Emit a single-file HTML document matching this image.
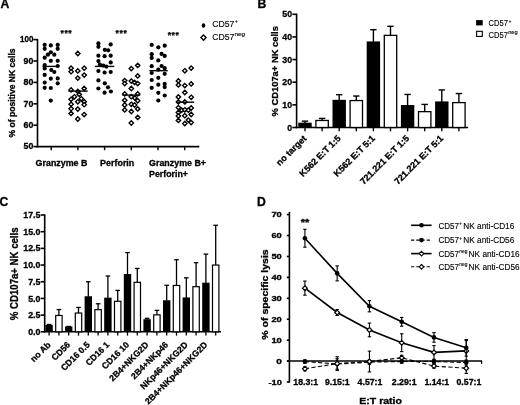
<!DOCTYPE html>
<html><head><meta charset="utf-8"><title>Figure</title>
<style>
html,body{margin:0;padding:0;background:#fff;width:520px;height:405px;overflow:hidden;}
svg{display:block;will-change:transform;}
text{font-family:"Liberation Sans", sans-serif;fill:#000;}
</style></head>
<body>
<svg width="520" height="405" viewBox="0 0 520 405">
<rect width="520" height="405" fill="#fff"/>
<text x="0.60" y="8.40" font-size="12.2" font-weight="bold" text-anchor="start" stroke="#000" stroke-width="0.3" >A</text>
<text x="257.60" y="8.40" font-size="12.2" font-weight="bold" text-anchor="start" stroke="#000" stroke-width="0.3" >B</text>
<text x="-0.60" y="205.60" font-size="12.2" font-weight="bold" text-anchor="start" stroke="#000" stroke-width="0.3" >C</text>
<text x="257.00" y="206.20" font-size="12.2" font-weight="bold" text-anchor="start" stroke="#000" stroke-width="0.3" >D</text>
<line x1="37.50" y1="38.90" x2="37.50" y2="147.30" stroke="#000" stroke-width="1.6" />
<line x1="36.70" y1="146.60" x2="199.30" y2="146.60" stroke="#000" stroke-width="1.6" />
<line x1="33.40" y1="39.60" x2="37.50" y2="39.60" stroke="#000" stroke-width="1.6" />
<text x="33.40" y="42.30" font-size="8.8" font-weight="bold" text-anchor="end" stroke="#000" stroke-width="0.3" textLength="13.40" lengthAdjust="spacingAndGlyphs" >100</text>
<line x1="33.40" y1="61.00" x2="37.50" y2="61.00" stroke="#000" stroke-width="1.6" />
<text x="33.40" y="63.70" font-size="8.8" font-weight="bold" text-anchor="end" stroke="#000" stroke-width="0.3" >90</text>
<line x1="33.40" y1="82.40" x2="37.50" y2="82.40" stroke="#000" stroke-width="1.6" />
<text x="33.40" y="85.10" font-size="8.8" font-weight="bold" text-anchor="end" stroke="#000" stroke-width="0.3" >80</text>
<line x1="33.40" y1="103.80" x2="37.50" y2="103.80" stroke="#000" stroke-width="1.6" />
<text x="33.40" y="106.50" font-size="8.8" font-weight="bold" text-anchor="end" stroke="#000" stroke-width="0.3" >70</text>
<line x1="33.40" y1="125.20" x2="37.50" y2="125.20" stroke="#000" stroke-width="1.6" />
<text x="33.40" y="127.90" font-size="8.8" font-weight="bold" text-anchor="end" stroke="#000" stroke-width="0.3" >60</text>
<line x1="33.40" y1="146.60" x2="37.50" y2="146.60" stroke="#000" stroke-width="1.6" />
<text x="33.40" y="149.30" font-size="8.8" font-weight="bold" text-anchor="end" stroke="#000" stroke-width="0.3" >50</text>
<line x1="51.20" y1="146.60" x2="51.20" y2="150.20" stroke="#000" stroke-width="1.4" />
<line x1="77.90" y1="146.60" x2="77.90" y2="150.20" stroke="#000" stroke-width="1.4" />
<line x1="104.60" y1="146.60" x2="104.60" y2="150.20" stroke="#000" stroke-width="1.4" />
<line x1="131.30" y1="146.60" x2="131.30" y2="150.20" stroke="#000" stroke-width="1.4" />
<line x1="158.00" y1="146.60" x2="158.00" y2="150.20" stroke="#000" stroke-width="1.4" />
<line x1="184.70" y1="146.60" x2="184.70" y2="150.20" stroke="#000" stroke-width="1.4" />
<text x="14.60" y="92.90" font-size="8.8" font-weight="bold" text-anchor="middle" stroke="#000" stroke-width="0.3" textLength="89.00" lengthAdjust="spacingAndGlyphs" transform="rotate(-90 14.60 92.90)" >% of positive NK cells</text>
<text x="35.60" y="166.30" font-size="8.8" font-weight="bold" text-anchor="start" stroke="#000" stroke-width="0.3" textLength="51.80" lengthAdjust="spacingAndGlyphs" >Granzyme B</text>
<text x="100.10" y="166.30" font-size="8.8" font-weight="bold" text-anchor="start" stroke="#000" stroke-width="0.3" textLength="34.20" lengthAdjust="spacingAndGlyphs" >Perforin</text>
<text x="149.10" y="166.30" font-size="8.8" font-weight="bold" text-anchor="start" stroke="#000" stroke-width="0.3" textLength="56.90" lengthAdjust="spacingAndGlyphs" >Granzyme B+</text>
<text x="149.10" y="176.80" font-size="8.8" font-weight="bold" text-anchor="start" stroke="#000" stroke-width="0.3" textLength="38.80" lengthAdjust="spacingAndGlyphs" >Perforin+</text>
<text x="62.15" y="36.30" font-size="8.6" font-weight="bold" text-anchor="middle" stroke="#000" stroke-width="0.25">*</text>
<text x="66.10" y="36.30" font-size="8.6" font-weight="bold" text-anchor="middle" stroke="#000" stroke-width="0.25">*</text>
<text x="70.05" y="36.30" font-size="8.6" font-weight="bold" text-anchor="middle" stroke="#000" stroke-width="0.25">*</text>
<text x="117.25" y="36.00" font-size="8.6" font-weight="bold" text-anchor="middle" stroke="#000" stroke-width="0.25">*</text>
<text x="121.20" y="36.00" font-size="8.6" font-weight="bold" text-anchor="middle" stroke="#000" stroke-width="0.25">*</text>
<text x="125.15" y="36.00" font-size="8.6" font-weight="bold" text-anchor="middle" stroke="#000" stroke-width="0.25">*</text>
<text x="169.35" y="37.90" font-size="8.6" font-weight="bold" text-anchor="middle" stroke="#000" stroke-width="0.25">*</text>
<text x="173.30" y="37.90" font-size="8.6" font-weight="bold" text-anchor="middle" stroke="#000" stroke-width="0.25">*</text>
<text x="177.25" y="37.90" font-size="8.6" font-weight="bold" text-anchor="middle" stroke="#000" stroke-width="0.25">*</text>
<ellipse cx="203.5" cy="25.5" rx="1.8" ry="2.3" fill="#000"/>
<path d="M203.50 35.00L206.10 37.60L203.50 40.20L200.90 37.60Z" fill="#fff" stroke="#000" stroke-width="1.35"/>
<text x="212.20" y="26.90" font-size="8.8" font-weight="normal" text-anchor="start" stroke="#000" stroke-width="0.12" textLength="22.20" lengthAdjust="spacingAndGlyphs" >CD57</text>
<text x="234.80" y="23.20" font-size="5.5" font-weight="normal" text-anchor="start" stroke="#000" stroke-width="0.12" >+</text>
<text x="212.20" y="39.90" font-size="8.8" font-weight="normal" text-anchor="start" stroke="#000" stroke-width="0.12" textLength="22.20" lengthAdjust="spacingAndGlyphs" >CD57</text>
<text x="234.40" y="36.40" font-size="5.8" font-weight="normal" text-anchor="start" stroke="#000" stroke-width="0.12" textLength="10.80" lengthAdjust="spacingAndGlyphs" >neg</text>
<circle cx="44.70" cy="44.90" r="2.1" fill="#000"/>
<circle cx="44.70" cy="48.80" r="2.1" fill="#000"/>
<circle cx="50.80" cy="45.40" r="2.1" fill="#000"/>
<circle cx="57.70" cy="44.90" r="2.1" fill="#000"/>
<circle cx="57.70" cy="48.80" r="2.1" fill="#000"/>
<circle cx="47.90" cy="54.70" r="2.1" fill="#000"/>
<circle cx="50.80" cy="52.30" r="2.1" fill="#000"/>
<circle cx="54.30" cy="54.70" r="2.1" fill="#000"/>
<circle cx="44.70" cy="57.70" r="2.1" fill="#000"/>
<circle cx="50.80" cy="60.80" r="2.1" fill="#000"/>
<circle cx="57.70" cy="60.80" r="2.1" fill="#000"/>
<circle cx="44.70" cy="65.10" r="2.1" fill="#000"/>
<circle cx="44.70" cy="68.50" r="2.1" fill="#000"/>
<circle cx="57.70" cy="66.00" r="2.1" fill="#000"/>
<circle cx="51.30" cy="70.00" r="2.1" fill="#000"/>
<circle cx="54.30" cy="72.00" r="2.1" fill="#000"/>
<circle cx="44.70" cy="74.90" r="2.1" fill="#000"/>
<circle cx="50.80" cy="78.70" r="2.1" fill="#000"/>
<circle cx="57.70" cy="78.40" r="2.1" fill="#000"/>
<circle cx="44.70" cy="82.60" r="2.1" fill="#000"/>
<circle cx="57.70" cy="83.30" r="2.1" fill="#000"/>
<circle cx="44.70" cy="87.80" r="2.1" fill="#000"/>
<circle cx="50.80" cy="88.00" r="2.1" fill="#000"/>
<circle cx="50.80" cy="100.60" r="2.1" fill="#000"/>
<circle cx="98.40" cy="43.40" r="2.1" fill="#000"/>
<circle cx="98.40" cy="46.80" r="2.1" fill="#000"/>
<circle cx="110.70" cy="44.40" r="2.1" fill="#000"/>
<circle cx="104.80" cy="49.80" r="2.1" fill="#000"/>
<circle cx="108.20" cy="50.30" r="2.1" fill="#000"/>
<circle cx="98.40" cy="55.70" r="2.1" fill="#000"/>
<circle cx="104.60" cy="56.20" r="2.1" fill="#000"/>
<circle cx="110.70" cy="55.70" r="2.1" fill="#000"/>
<circle cx="98.40" cy="61.10" r="2.1" fill="#000"/>
<circle cx="110.70" cy="62.40" r="2.1" fill="#000"/>
<circle cx="99.90" cy="64.60" r="2.1" fill="#000"/>
<circle cx="103.30" cy="65.60" r="2.1" fill="#000"/>
<circle cx="106.30" cy="66.60" r="2.1" fill="#000"/>
<circle cx="98.40" cy="71.00" r="2.1" fill="#000"/>
<circle cx="104.60" cy="72.50" r="2.1" fill="#000"/>
<circle cx="110.70" cy="72.00" r="2.1" fill="#000"/>
<circle cx="98.40" cy="80.40" r="2.1" fill="#000"/>
<circle cx="104.80" cy="83.30" r="2.1" fill="#000"/>
<circle cx="98.40" cy="88.50" r="2.1" fill="#000"/>
<circle cx="108.00" cy="87.30" r="2.1" fill="#000"/>
<circle cx="104.60" cy="92.70" r="2.1" fill="#000"/>
<circle cx="110.90" cy="91.50" r="2.1" fill="#000"/>
<circle cx="151.70" cy="44.90" r="2.1" fill="#000"/>
<circle cx="158.30" cy="47.30" r="2.1" fill="#000"/>
<circle cx="164.70" cy="45.70" r="2.1" fill="#000"/>
<circle cx="151.70" cy="54.20" r="2.1" fill="#000"/>
<circle cx="151.70" cy="57.90" r="2.1" fill="#000"/>
<circle cx="161.60" cy="53.90" r="2.1" fill="#000"/>
<circle cx="164.70" cy="55.90" r="2.1" fill="#000"/>
<circle cx="158.30" cy="60.40" r="2.1" fill="#000"/>
<circle cx="151.70" cy="66.20" r="2.1" fill="#000"/>
<circle cx="161.60" cy="66.00" r="2.1" fill="#000"/>
<circle cx="164.70" cy="68.20" r="2.1" fill="#000"/>
<circle cx="158.30" cy="69.70" r="2.1" fill="#000"/>
<circle cx="151.70" cy="73.00" r="2.1" fill="#000"/>
<circle cx="164.70" cy="73.80" r="2.1" fill="#000"/>
<circle cx="151.70" cy="80.00" r="2.1" fill="#000"/>
<circle cx="158.30" cy="77.80" r="2.1" fill="#000"/>
<circle cx="158.30" cy="84.70" r="2.1" fill="#000"/>
<circle cx="164.70" cy="83.90" r="2.1" fill="#000"/>
<circle cx="164.70" cy="87.10" r="2.1" fill="#000"/>
<circle cx="151.70" cy="87.80" r="2.1" fill="#000"/>
<circle cx="158.30" cy="92.80" r="2.1" fill="#000"/>
<circle cx="164.70" cy="95.50" r="2.1" fill="#000"/>
<circle cx="158.30" cy="100.50" r="2.1" fill="#000"/>
<path d="M77.80 51.30L80.00 53.50L77.80 55.70L75.60 53.50Z" fill="#fff" stroke="#000" stroke-width="1.35"/>
<path d="M71.10 66.00L73.30 68.20L71.10 70.40L68.90 68.20Z" fill="#fff" stroke="#000" stroke-width="1.35"/>
<path d="M71.10 69.50L73.30 71.70L71.10 73.90L68.90 71.70Z" fill="#fff" stroke="#000" stroke-width="1.35"/>
<path d="M77.80 68.70L80.00 70.90L77.80 73.10L75.60 70.90Z" fill="#fff" stroke="#000" stroke-width="1.35"/>
<path d="M84.20 66.00L86.40 68.20L84.20 70.40L82.00 68.20Z" fill="#fff" stroke="#000" stroke-width="1.35"/>
<path d="M84.20 72.90L86.40 75.10L84.20 77.30L82.00 75.10Z" fill="#fff" stroke="#000" stroke-width="1.35"/>
<path d="M77.80 75.90L80.00 78.10L77.80 80.30L75.60 78.10Z" fill="#fff" stroke="#000" stroke-width="1.35"/>
<path d="M71.10 87.70L73.30 89.90L71.10 92.10L68.90 89.90Z" fill="#fff" stroke="#000" stroke-width="1.35"/>
<path d="M84.20 86.20L86.40 88.40L84.20 90.60L82.00 88.40Z" fill="#fff" stroke="#000" stroke-width="1.35"/>
<path d="M77.80 89.20L80.00 91.40L77.80 93.60L75.60 91.40Z" fill="#fff" stroke="#000" stroke-width="1.35"/>
<path d="M79.30 92.20L81.50 94.40L79.30 96.60L77.10 94.40Z" fill="#fff" stroke="#000" stroke-width="1.35"/>
<path d="M74.40 94.60L76.60 96.80L74.40 99.00L72.20 96.80Z" fill="#fff" stroke="#000" stroke-width="1.35"/>
<path d="M71.10 97.10L73.30 99.30L71.10 101.50L68.90 99.30Z" fill="#fff" stroke="#000" stroke-width="1.35"/>
<path d="M77.80 99.60L80.00 101.80L77.80 104.00L75.60 101.80Z" fill="#fff" stroke="#000" stroke-width="1.35"/>
<path d="M81.30 96.60L83.50 98.80L81.30 101.00L79.10 98.80Z" fill="#fff" stroke="#000" stroke-width="1.35"/>
<path d="M84.20 99.60L86.40 101.80L84.20 104.00L82.00 101.80Z" fill="#fff" stroke="#000" stroke-width="1.35"/>
<path d="M84.20 102.50L86.40 104.70L84.20 106.90L82.00 104.70Z" fill="#fff" stroke="#000" stroke-width="1.35"/>
<path d="M71.10 102.00L73.30 104.20L71.10 106.40L68.90 104.20Z" fill="#fff" stroke="#000" stroke-width="1.35"/>
<path d="M71.10 106.50L73.30 108.70L71.10 110.90L68.90 108.70Z" fill="#fff" stroke="#000" stroke-width="1.35"/>
<path d="M77.80 106.90L80.00 109.10L77.80 111.30L75.60 109.10Z" fill="#fff" stroke="#000" stroke-width="1.35"/>
<path d="M71.10 111.20L73.30 113.40L71.10 115.60L68.90 113.40Z" fill="#fff" stroke="#000" stroke-width="1.35"/>
<path d="M84.20 112.40L86.40 114.60L84.20 116.80L82.00 114.60Z" fill="#fff" stroke="#000" stroke-width="1.35"/>
<path d="M77.80 116.80L80.00 119.00L77.80 121.20L75.60 119.00Z" fill="#fff" stroke="#000" stroke-width="1.35"/>
<path d="M137.70 63.20L139.90 65.40L137.70 67.60L135.50 65.40Z" fill="#fff" stroke="#000" stroke-width="1.35"/>
<path d="M131.30 66.40L133.50 68.60L131.30 70.80L129.10 68.60Z" fill="#fff" stroke="#000" stroke-width="1.35"/>
<path d="M137.70 73.70L139.90 75.90L137.70 78.10L135.50 75.90Z" fill="#fff" stroke="#000" stroke-width="1.35"/>
<path d="M124.70 78.40L126.90 80.60L124.70 82.80L122.50 80.60Z" fill="#fff" stroke="#000" stroke-width="1.35"/>
<path d="M124.70 81.40L126.90 83.60L124.70 85.80L122.50 83.60Z" fill="#fff" stroke="#000" stroke-width="1.35"/>
<path d="M131.30 78.90L133.50 81.10L131.30 83.30L129.10 81.10Z" fill="#fff" stroke="#000" stroke-width="1.35"/>
<path d="M134.60 80.20L136.80 82.40L134.60 84.60L132.40 82.40Z" fill="#fff" stroke="#000" stroke-width="1.35"/>
<path d="M137.70 81.40L139.90 83.60L137.70 85.80L135.50 83.60Z" fill="#fff" stroke="#000" stroke-width="1.35"/>
<path d="M131.30 86.30L133.50 88.50L131.30 90.70L129.10 88.50Z" fill="#fff" stroke="#000" stroke-width="1.35"/>
<path d="M124.70 91.70L126.90 93.90L124.70 96.10L122.50 93.90Z" fill="#fff" stroke="#000" stroke-width="1.35"/>
<path d="M137.70 91.70L139.90 93.90L137.70 96.10L135.50 93.90Z" fill="#fff" stroke="#000" stroke-width="1.35"/>
<path d="M131.30 94.50L133.50 96.70L131.30 98.90L129.10 96.70Z" fill="#fff" stroke="#000" stroke-width="1.35"/>
<path d="M134.80 95.70L137.00 97.90L134.80 100.10L132.60 97.90Z" fill="#fff" stroke="#000" stroke-width="1.35"/>
<path d="M124.70 98.10L126.90 100.30L124.70 102.50L122.50 100.30Z" fill="#fff" stroke="#000" stroke-width="1.35"/>
<path d="M137.70 98.60L139.90 100.80L137.70 103.00L135.50 100.80Z" fill="#fff" stroke="#000" stroke-width="1.35"/>
<path d="M131.30 102.10L133.50 104.30L131.30 106.50L129.10 104.30Z" fill="#fff" stroke="#000" stroke-width="1.35"/>
<path d="M134.60 102.80L136.80 105.00L134.60 107.20L132.40 105.00Z" fill="#fff" stroke="#000" stroke-width="1.35"/>
<path d="M124.70 102.80L126.90 105.00L124.70 107.20L122.50 105.00Z" fill="#fff" stroke="#000" stroke-width="1.35"/>
<path d="M124.70 107.70L126.90 109.90L124.70 112.10L122.50 109.90Z" fill="#fff" stroke="#000" stroke-width="1.35"/>
<path d="M131.30 109.30L133.50 111.50L131.30 113.70L129.10 111.50Z" fill="#fff" stroke="#000" stroke-width="1.35"/>
<path d="M137.70 106.70L139.90 108.90L137.70 111.10L135.50 108.90Z" fill="#fff" stroke="#000" stroke-width="1.35"/>
<path d="M137.70 115.20L139.90 117.40L137.70 119.60L135.50 117.40Z" fill="#fff" stroke="#000" stroke-width="1.35"/>
<path d="M131.30 120.80L133.50 123.00L131.30 125.20L129.10 123.00Z" fill="#fff" stroke="#000" stroke-width="1.35"/>
<path d="M191.20 65.90L193.40 68.10L191.20 70.30L189.00 68.10Z" fill="#fff" stroke="#000" stroke-width="1.35"/>
<path d="M184.80 68.60L187.00 70.80L184.80 73.00L182.60 70.80Z" fill="#fff" stroke="#000" stroke-width="1.35"/>
<path d="M178.40 78.70L180.60 80.90L178.40 83.10L176.20 80.90Z" fill="#fff" stroke="#000" stroke-width="1.35"/>
<path d="M178.40 82.70L180.60 84.90L178.40 87.10L176.20 84.90Z" fill="#fff" stroke="#000" stroke-width="1.35"/>
<path d="M184.80 83.40L187.00 85.60L184.80 87.80L182.60 85.60Z" fill="#fff" stroke="#000" stroke-width="1.35"/>
<path d="M191.20 81.70L193.40 83.90L191.20 86.10L189.00 83.90Z" fill="#fff" stroke="#000" stroke-width="1.35"/>
<path d="M184.80 90.30L187.00 92.50L184.80 94.70L182.60 92.50Z" fill="#fff" stroke="#000" stroke-width="1.35"/>
<path d="M178.40 94.70L180.60 96.90L178.40 99.10L176.20 96.90Z" fill="#fff" stroke="#000" stroke-width="1.35"/>
<path d="M191.20 95.10L193.40 97.30L191.20 99.50L189.00 97.30Z" fill="#fff" stroke="#000" stroke-width="1.35"/>
<path d="M178.40 99.70L180.60 101.90L178.40 104.10L176.20 101.90Z" fill="#fff" stroke="#000" stroke-width="1.35"/>
<path d="M184.80 99.70L187.00 101.90L184.80 104.10L182.60 101.90Z" fill="#fff" stroke="#000" stroke-width="1.35"/>
<path d="M178.40 105.40L180.60 107.60L178.40 109.80L176.20 107.60Z" fill="#fff" stroke="#000" stroke-width="1.35"/>
<path d="M191.20 105.80L193.40 108.00L191.20 110.20L189.00 108.00Z" fill="#fff" stroke="#000" stroke-width="1.35"/>
<path d="M181.70 108.00L183.90 110.20L181.70 112.40L179.50 110.20Z" fill="#fff" stroke="#000" stroke-width="1.35"/>
<path d="M184.80 107.60L187.00 109.80L184.80 112.00L182.60 109.80Z" fill="#fff" stroke="#000" stroke-width="1.35"/>
<path d="M188.30 108.00L190.50 110.20L188.30 112.40L186.10 110.20Z" fill="#fff" stroke="#000" stroke-width="1.35"/>
<path d="M178.40 110.30L180.60 112.50L178.40 114.70L176.20 112.50Z" fill="#fff" stroke="#000" stroke-width="1.35"/>
<path d="M191.20 112.30L193.40 114.50L191.20 116.70L189.00 114.50Z" fill="#fff" stroke="#000" stroke-width="1.35"/>
<path d="M184.80 113.50L187.00 115.70L184.80 117.90L182.60 115.70Z" fill="#fff" stroke="#000" stroke-width="1.35"/>
<path d="M178.40 113.70L180.60 115.90L178.40 118.10L176.20 115.90Z" fill="#fff" stroke="#000" stroke-width="1.35"/>
<path d="M188.30 117.90L190.50 120.10L188.30 122.30L186.10 120.10Z" fill="#fff" stroke="#000" stroke-width="1.35"/>
<path d="M178.40 118.20L180.60 120.40L178.40 122.60L176.20 120.40Z" fill="#fff" stroke="#000" stroke-width="1.35"/>
<path d="M184.80 121.40L187.00 123.60L184.80 125.80L182.60 123.60Z" fill="#fff" stroke="#000" stroke-width="1.35"/>
<path d="M191.20 120.40L193.40 122.60L191.20 124.80L189.00 122.60Z" fill="#fff" stroke="#000" stroke-width="1.35"/>
<line x1="42.40" y1="66.40" x2="59.20" y2="66.40" stroke="#000" stroke-width="1.4" />
<line x1="68.40" y1="91.10" x2="87.70" y2="91.10" stroke="#000" stroke-width="1.4" />
<line x1="94.90" y1="66.40" x2="114.20" y2="66.40" stroke="#000" stroke-width="1.4" />
<line x1="122.40" y1="95.10" x2="140.20" y2="95.10" stroke="#000" stroke-width="1.4" />
<line x1="149.40" y1="70.70" x2="167.70" y2="70.70" stroke="#000" stroke-width="1.4" />
<line x1="176.40" y1="102.20" x2="194.20" y2="102.20" stroke="#000" stroke-width="1.4" />
<line x1="296.60" y1="13.60" x2="296.60" y2="128.20" stroke="#000" stroke-width="1.6" />
<line x1="295.80" y1="127.50" x2="468.10" y2="127.50" stroke="#000" stroke-width="1.6" />
<line x1="292.40" y1="127.50" x2="296.60" y2="127.50" stroke="#000" stroke-width="1.6" />
<text x="292.10" y="130.60" font-size="8.8" font-weight="bold" text-anchor="end" stroke="#000" stroke-width="0.3" >0</text>
<line x1="292.40" y1="104.86" x2="296.60" y2="104.86" stroke="#000" stroke-width="1.6" />
<text x="292.10" y="107.96" font-size="8.8" font-weight="bold" text-anchor="end" stroke="#000" stroke-width="0.3" >10</text>
<line x1="292.40" y1="82.22" x2="296.60" y2="82.22" stroke="#000" stroke-width="1.6" />
<text x="292.10" y="85.32" font-size="8.8" font-weight="bold" text-anchor="end" stroke="#000" stroke-width="0.3" >20</text>
<line x1="292.40" y1="59.58" x2="296.60" y2="59.58" stroke="#000" stroke-width="1.6" />
<text x="292.10" y="62.68" font-size="8.8" font-weight="bold" text-anchor="end" stroke="#000" stroke-width="0.3" >30</text>
<line x1="292.40" y1="36.94" x2="296.60" y2="36.94" stroke="#000" stroke-width="1.6" />
<text x="292.10" y="40.04" font-size="8.8" font-weight="bold" text-anchor="end" stroke="#000" stroke-width="0.3" >40</text>
<line x1="292.40" y1="14.30" x2="296.60" y2="14.30" stroke="#000" stroke-width="1.6" />
<text x="292.10" y="17.40" font-size="8.8" font-weight="bold" text-anchor="end" stroke="#000" stroke-width="0.3" >50</text>
<text x="277.80" y="71.30" font-size="9.8" font-weight="bold" text-anchor="middle" stroke="#000" stroke-width="0.3" textLength="90.40" lengthAdjust="spacingAndGlyphs" transform="rotate(-90 277.80 71.30)" >% CD107a+ NK cells</text>
<line x1="305.00" y1="121.16" x2="305.00" y2="123.20" stroke="#000" stroke-width="1.4" />
<line x1="301.80" y1="121.16" x2="308.20" y2="121.16" stroke="#000" stroke-width="1.4" />
<rect x="298.30" y="122.70" width="13.40" height="4.80" fill="#000"/>
<line x1="305.00" y1="127.50" x2="305.00" y2="131.30" stroke="#000" stroke-width="1.4" />
<line x1="322.10" y1="118.44" x2="322.10" y2="120.48" stroke="#000" stroke-width="1.4" />
<line x1="318.90" y1="118.44" x2="325.30" y2="118.44" stroke="#000" stroke-width="1.4" />
<rect x="315.90" y="120.48" width="12.40" height="7.02" fill="#fff" stroke="#000" stroke-width="1.3"/>
<line x1="322.10" y1="127.50" x2="322.10" y2="131.30" stroke="#000" stroke-width="1.4" />
<line x1="339.20" y1="94.67" x2="339.20" y2="100.33" stroke="#000" stroke-width="1.4" />
<line x1="336.00" y1="94.67" x2="342.40" y2="94.67" stroke="#000" stroke-width="1.4" />
<rect x="332.50" y="99.83" width="13.40" height="27.67" fill="#000"/>
<line x1="339.20" y1="127.50" x2="339.20" y2="131.30" stroke="#000" stroke-width="1.4" />
<line x1="356.30" y1="96.03" x2="356.30" y2="100.56" stroke="#000" stroke-width="1.4" />
<line x1="353.10" y1="96.03" x2="359.50" y2="96.03" stroke="#000" stroke-width="1.4" />
<rect x="350.10" y="100.56" width="12.40" height="26.94" fill="#fff" stroke="#000" stroke-width="1.3"/>
<line x1="356.30" y1="127.50" x2="356.30" y2="131.30" stroke="#000" stroke-width="1.4" />
<line x1="373.40" y1="29.70" x2="373.40" y2="41.92" stroke="#000" stroke-width="1.4" />
<line x1="370.20" y1="29.70" x2="376.60" y2="29.70" stroke="#000" stroke-width="1.4" />
<rect x="366.70" y="41.42" width="13.40" height="86.08" fill="#000"/>
<line x1="373.40" y1="127.50" x2="373.40" y2="131.30" stroke="#000" stroke-width="1.4" />
<line x1="390.50" y1="26.30" x2="390.50" y2="35.36" stroke="#000" stroke-width="1.4" />
<line x1="387.30" y1="26.30" x2="393.70" y2="26.30" stroke="#000" stroke-width="1.4" />
<rect x="384.30" y="35.36" width="12.40" height="92.14" fill="#fff" stroke="#000" stroke-width="1.3"/>
<line x1="390.50" y1="127.50" x2="390.50" y2="131.30" stroke="#000" stroke-width="1.4" />
<line x1="407.60" y1="94.45" x2="407.60" y2="105.54" stroke="#000" stroke-width="1.4" />
<line x1="404.40" y1="94.45" x2="410.80" y2="94.45" stroke="#000" stroke-width="1.4" />
<rect x="400.90" y="105.04" width="13.40" height="22.46" fill="#000"/>
<line x1="407.60" y1="127.50" x2="407.60" y2="131.30" stroke="#000" stroke-width="1.4" />
<line x1="424.70" y1="104.41" x2="424.70" y2="111.65" stroke="#000" stroke-width="1.4" />
<line x1="421.50" y1="104.41" x2="427.90" y2="104.41" stroke="#000" stroke-width="1.4" />
<rect x="418.50" y="111.65" width="12.40" height="15.85" fill="#fff" stroke="#000" stroke-width="1.3"/>
<line x1="424.70" y1="127.50" x2="424.70" y2="131.30" stroke="#000" stroke-width="1.4" />
<line x1="441.80" y1="89.92" x2="441.80" y2="101.92" stroke="#000" stroke-width="1.4" />
<line x1="438.60" y1="89.92" x2="445.00" y2="89.92" stroke="#000" stroke-width="1.4" />
<rect x="435.10" y="101.42" width="13.40" height="26.08" fill="#000"/>
<line x1="441.80" y1="127.50" x2="441.80" y2="131.30" stroke="#000" stroke-width="1.4" />
<line x1="458.90" y1="93.54" x2="458.90" y2="102.60" stroke="#000" stroke-width="1.4" />
<line x1="455.70" y1="93.54" x2="462.10" y2="93.54" stroke="#000" stroke-width="1.4" />
<rect x="452.70" y="102.60" width="12.40" height="24.90" fill="#fff" stroke="#000" stroke-width="1.3"/>
<line x1="458.90" y1="127.50" x2="458.90" y2="131.30" stroke="#000" stroke-width="1.4" />
<text x="307.10" y="139.00" font-size="9" font-weight="bold" text-anchor="end" stroke="#000" stroke-width="0.3" transform="rotate(-45 307.10 139.00)" >no target</text>
<text x="341.30" y="139.00" font-size="9" font-weight="bold" text-anchor="end" stroke="#000" stroke-width="0.3" transform="rotate(-45 341.30 139.00)" >K562 E:T 1:5</text>
<text x="375.50" y="139.00" font-size="9" font-weight="bold" text-anchor="end" stroke="#000" stroke-width="0.3" transform="rotate(-45 375.50 139.00)" >K562 E:T 5:1</text>
<text x="409.70" y="139.00" font-size="9" font-weight="bold" text-anchor="end" stroke="#000" stroke-width="0.3" transform="rotate(-45 409.70 139.00)" >721.221 E:T 1:5</text>
<text x="443.90" y="139.00" font-size="9" font-weight="bold" text-anchor="end" stroke="#000" stroke-width="0.3" transform="rotate(-45 443.90 139.00)" >721.221 E:T 5:1</text>
<rect x="476.1" y="20.1" width="6.6" height="5.3" fill="#000"/>
<rect x="476.6" y="31.3" width="5.7" height="5.1" fill="#fff" stroke="#000" stroke-width="1.1"/>
<text x="488.60" y="26.00" font-size="8.2" font-weight="normal" text-anchor="start" stroke="#000" stroke-width="0.12" textLength="19.30" lengthAdjust="spacingAndGlyphs" >CD57</text>
<text x="508.40" y="23.00" font-size="5" font-weight="normal" text-anchor="start" stroke="#000" stroke-width="0.12" >+</text>
<text x="488.60" y="37.60" font-size="8.2" font-weight="normal" text-anchor="start" stroke="#000" stroke-width="0.12" textLength="19.30" lengthAdjust="spacingAndGlyphs" >CD57</text>
<text x="508.20" y="34.20" font-size="5" font-weight="normal" text-anchor="start" stroke="#000" stroke-width="0.12" textLength="9.50" lengthAdjust="spacingAndGlyphs" >neg</text>
<line x1="44.70" y1="214.30" x2="44.70" y2="332.50" stroke="#000" stroke-width="1.6" />
<line x1="43.90" y1="331.80" x2="221.00" y2="331.80" stroke="#000" stroke-width="1.6" />
<line x1="40.60" y1="331.80" x2="44.70" y2="331.80" stroke="#000" stroke-width="1.6" />
<text x="40.40" y="334.90" font-size="8.8" font-weight="bold" text-anchor="end" stroke="#000" stroke-width="0.3" >0.0</text>
<line x1="40.60" y1="315.11" x2="44.70" y2="315.11" stroke="#000" stroke-width="1.6" />
<text x="40.40" y="318.21" font-size="8.8" font-weight="bold" text-anchor="end" stroke="#000" stroke-width="0.3" >2.5</text>
<line x1="40.60" y1="298.43" x2="44.70" y2="298.43" stroke="#000" stroke-width="1.6" />
<text x="40.40" y="301.53" font-size="8.8" font-weight="bold" text-anchor="end" stroke="#000" stroke-width="0.3" >5.0</text>
<line x1="40.60" y1="281.74" x2="44.70" y2="281.74" stroke="#000" stroke-width="1.6" />
<text x="40.40" y="284.84" font-size="8.8" font-weight="bold" text-anchor="end" stroke="#000" stroke-width="0.3" >7.5</text>
<line x1="40.60" y1="265.06" x2="44.70" y2="265.06" stroke="#000" stroke-width="1.6" />
<text x="40.40" y="268.16" font-size="8.8" font-weight="bold" text-anchor="end" stroke="#000" stroke-width="0.3" >10.0</text>
<line x1="40.60" y1="248.37" x2="44.70" y2="248.37" stroke="#000" stroke-width="1.6" />
<text x="40.40" y="251.47" font-size="8.8" font-weight="bold" text-anchor="end" stroke="#000" stroke-width="0.3" >12.5</text>
<line x1="40.60" y1="231.69" x2="44.70" y2="231.69" stroke="#000" stroke-width="1.6" />
<text x="40.40" y="234.79" font-size="8.8" font-weight="bold" text-anchor="end" stroke="#000" stroke-width="0.3" >15.0</text>
<line x1="40.60" y1="215.00" x2="44.70" y2="215.00" stroke="#000" stroke-width="1.6" />
<text x="40.40" y="218.10" font-size="8.8" font-weight="bold" text-anchor="end" stroke="#000" stroke-width="0.3" >17.5</text>
<text x="18.30" y="273.80" font-size="10" font-weight="bold" text-anchor="middle" stroke="#000" stroke-width="0.3" textLength="92.70" lengthAdjust="spacingAndGlyphs" transform="rotate(-90 18.30 273.80)" >% CD107a+ NK cells</text>
<line x1="49.10" y1="324.46" x2="49.10" y2="325.39" stroke="#000" stroke-width="1.3" />
<line x1="46.80" y1="324.46" x2="51.40" y2="324.46" stroke="#000" stroke-width="1.3" />
<rect x="45.40" y="324.89" width="7.40" height="6.91" fill="#000"/>
<line x1="49.10" y1="331.80" x2="49.10" y2="335.60" stroke="#000" stroke-width="1.3" />
<line x1="58.90" y1="309.57" x2="58.90" y2="315.45" stroke="#000" stroke-width="1.3" />
<line x1="56.60" y1="309.57" x2="61.20" y2="309.57" stroke="#000" stroke-width="1.3" />
<rect x="55.70" y="315.45" width="6.40" height="16.35" fill="#fff" stroke="#000" stroke-width="1.2"/>
<line x1="58.90" y1="331.80" x2="58.90" y2="335.60" stroke="#000" stroke-width="1.3" />
<line x1="68.70" y1="326.46" x2="68.70" y2="326.99" stroke="#000" stroke-width="1.3" />
<line x1="66.40" y1="326.46" x2="71.00" y2="326.46" stroke="#000" stroke-width="1.3" />
<rect x="65.00" y="326.49" width="7.40" height="5.31" fill="#000"/>
<line x1="68.70" y1="331.80" x2="68.70" y2="335.60" stroke="#000" stroke-width="1.3" />
<line x1="78.50" y1="307.44" x2="78.50" y2="313.05" stroke="#000" stroke-width="1.3" />
<line x1="76.20" y1="307.44" x2="80.80" y2="307.44" stroke="#000" stroke-width="1.3" />
<rect x="75.30" y="313.05" width="6.40" height="18.75" fill="#fff" stroke="#000" stroke-width="1.2"/>
<line x1="78.50" y1="331.80" x2="78.50" y2="335.60" stroke="#000" stroke-width="1.3" />
<line x1="88.30" y1="281.74" x2="88.30" y2="296.76" stroke="#000" stroke-width="1.3" />
<line x1="86.00" y1="281.74" x2="90.60" y2="281.74" stroke="#000" stroke-width="1.3" />
<rect x="84.60" y="296.26" width="7.40" height="35.54" fill="#000"/>
<line x1="88.30" y1="331.80" x2="88.30" y2="335.60" stroke="#000" stroke-width="1.3" />
<line x1="98.10" y1="303.77" x2="98.10" y2="309.64" stroke="#000" stroke-width="1.3" />
<line x1="95.80" y1="303.77" x2="100.40" y2="303.77" stroke="#000" stroke-width="1.3" />
<rect x="94.90" y="309.64" width="6.40" height="22.16" fill="#fff" stroke="#000" stroke-width="1.2"/>
<line x1="98.10" y1="331.80" x2="98.10" y2="335.60" stroke="#000" stroke-width="1.3" />
<line x1="107.90" y1="276.00" x2="107.90" y2="298.16" stroke="#000" stroke-width="1.3" />
<line x1="105.60" y1="276.00" x2="110.20" y2="276.00" stroke="#000" stroke-width="1.3" />
<rect x="104.20" y="297.66" width="7.40" height="34.14" fill="#000"/>
<line x1="107.90" y1="331.80" x2="107.90" y2="335.60" stroke="#000" stroke-width="1.3" />
<line x1="117.70" y1="290.42" x2="117.70" y2="301.30" stroke="#000" stroke-width="1.3" />
<line x1="115.40" y1="290.42" x2="120.00" y2="290.42" stroke="#000" stroke-width="1.3" />
<rect x="114.50" y="301.30" width="6.40" height="30.50" fill="#fff" stroke="#000" stroke-width="1.2"/>
<line x1="117.70" y1="331.80" x2="117.70" y2="335.60" stroke="#000" stroke-width="1.3" />
<line x1="127.50" y1="252.58" x2="127.50" y2="274.53" stroke="#000" stroke-width="1.3" />
<line x1="125.20" y1="252.58" x2="129.80" y2="252.58" stroke="#000" stroke-width="1.3" />
<rect x="123.80" y="274.03" width="7.40" height="57.77" fill="#000"/>
<line x1="127.50" y1="331.80" x2="127.50" y2="335.60" stroke="#000" stroke-width="1.3" />
<line x1="137.30" y1="268.46" x2="137.30" y2="282.34" stroke="#000" stroke-width="1.3" />
<line x1="135.00" y1="268.46" x2="139.60" y2="268.46" stroke="#000" stroke-width="1.3" />
<rect x="134.10" y="282.34" width="6.40" height="49.46" fill="#fff" stroke="#000" stroke-width="1.2"/>
<line x1="137.30" y1="331.80" x2="137.30" y2="335.60" stroke="#000" stroke-width="1.3" />
<line x1="147.10" y1="318.32" x2="147.10" y2="319.72" stroke="#000" stroke-width="1.3" />
<line x1="144.80" y1="318.32" x2="149.40" y2="318.32" stroke="#000" stroke-width="1.3" />
<rect x="143.40" y="319.22" width="7.40" height="12.58" fill="#000"/>
<line x1="147.10" y1="331.80" x2="147.10" y2="335.60" stroke="#000" stroke-width="1.3" />
<line x1="156.90" y1="310.38" x2="156.90" y2="314.85" stroke="#000" stroke-width="1.3" />
<line x1="154.60" y1="310.38" x2="159.20" y2="310.38" stroke="#000" stroke-width="1.3" />
<rect x="153.70" y="314.85" width="6.40" height="16.95" fill="#fff" stroke="#000" stroke-width="1.2"/>
<line x1="156.90" y1="331.80" x2="156.90" y2="335.60" stroke="#000" stroke-width="1.3" />
<line x1="166.70" y1="285.28" x2="166.70" y2="300.76" stroke="#000" stroke-width="1.3" />
<line x1="164.40" y1="285.28" x2="169.00" y2="285.28" stroke="#000" stroke-width="1.3" />
<rect x="163.00" y="300.26" width="7.40" height="31.54" fill="#000"/>
<line x1="166.70" y1="331.80" x2="166.70" y2="335.60" stroke="#000" stroke-width="1.3" />
<line x1="176.50" y1="259.72" x2="176.50" y2="285.48" stroke="#000" stroke-width="1.3" />
<line x1="174.20" y1="259.72" x2="178.80" y2="259.72" stroke="#000" stroke-width="1.3" />
<rect x="173.30" y="285.48" width="6.40" height="46.32" fill="#fff" stroke="#000" stroke-width="1.2"/>
<line x1="176.50" y1="331.80" x2="176.50" y2="335.60" stroke="#000" stroke-width="1.3" />
<line x1="186.30" y1="277.81" x2="186.30" y2="297.96" stroke="#000" stroke-width="1.3" />
<line x1="184.00" y1="277.81" x2="188.60" y2="277.81" stroke="#000" stroke-width="1.3" />
<rect x="182.60" y="297.46" width="7.40" height="34.34" fill="#000"/>
<line x1="186.30" y1="331.80" x2="186.30" y2="335.60" stroke="#000" stroke-width="1.3" />
<line x1="196.10" y1="262.65" x2="196.10" y2="286.68" stroke="#000" stroke-width="1.3" />
<line x1="193.80" y1="262.65" x2="198.40" y2="262.65" stroke="#000" stroke-width="1.3" />
<rect x="192.90" y="286.68" width="6.40" height="45.12" fill="#fff" stroke="#000" stroke-width="1.2"/>
<line x1="196.10" y1="331.80" x2="196.10" y2="335.60" stroke="#000" stroke-width="1.3" />
<line x1="205.90" y1="254.11" x2="205.90" y2="283.21" stroke="#000" stroke-width="1.3" />
<line x1="203.60" y1="254.11" x2="208.20" y2="254.11" stroke="#000" stroke-width="1.3" />
<rect x="202.20" y="282.71" width="7.40" height="49.09" fill="#000"/>
<line x1="205.90" y1="331.80" x2="205.90" y2="335.60" stroke="#000" stroke-width="1.3" />
<line x1="215.70" y1="225.28" x2="215.70" y2="265.06" stroke="#000" stroke-width="1.3" />
<line x1="213.40" y1="225.28" x2="218.00" y2="225.28" stroke="#000" stroke-width="1.3" />
<rect x="212.50" y="265.06" width="6.40" height="66.74" fill="#fff" stroke="#000" stroke-width="1.2"/>
<line x1="215.70" y1="331.80" x2="215.70" y2="335.60" stroke="#000" stroke-width="1.3" />
<text x="51.20" y="345.40" font-size="8.7" font-weight="bold" text-anchor="end" stroke="#000" stroke-width="0.3" transform="rotate(-45 51.20 345.40)" >no Ab</text>
<text x="70.80" y="345.40" font-size="8.7" font-weight="bold" text-anchor="end" stroke="#000" stroke-width="0.3" transform="rotate(-45 70.80 345.40)" >CD56</text>
<text x="90.40" y="345.40" font-size="8.7" font-weight="bold" text-anchor="end" stroke="#000" stroke-width="0.3" transform="rotate(-45 90.40 345.40)" >CD16 0.5</text>
<text x="110.00" y="345.40" font-size="8.7" font-weight="bold" text-anchor="end" stroke="#000" stroke-width="0.3" transform="rotate(-45 110.00 345.40)" >CD16 1</text>
<text x="129.60" y="345.40" font-size="8.7" font-weight="bold" text-anchor="end" stroke="#000" stroke-width="0.3" transform="rotate(-45 129.60 345.40)" >CD16 10</text>
<text x="149.20" y="345.40" font-size="8.7" font-weight="bold" text-anchor="end" stroke="#000" stroke-width="0.3" transform="rotate(-45 149.20 345.40)" >2B4+NKG2D</text>
<text x="168.80" y="345.40" font-size="8.7" font-weight="bold" text-anchor="end" stroke="#000" stroke-width="0.3" transform="rotate(-45 168.80 345.40)" >2B4+NKp46</text>
<text x="188.40" y="345.40" font-size="8.7" font-weight="bold" text-anchor="end" stroke="#000" stroke-width="0.3" transform="rotate(-45 188.40 345.40)" >NKp46+NKG2D</text>
<text x="208.00" y="345.40" font-size="8.7" font-weight="bold" text-anchor="end" stroke="#000" stroke-width="0.3" transform="rotate(-45 208.00 345.40)" >2B4+NKp46+NKG2D</text>
<line x1="289.40" y1="211.90" x2="289.40" y2="382.63" stroke="#000" stroke-width="1.6" />
<line x1="287.00" y1="361.10" x2="482.00" y2="361.10" stroke="#000" stroke-width="1.5" />
<line x1="481.60" y1="360.90" x2="481.60" y2="363.90" stroke="#000" stroke-width="1.3" />
<line x1="286.80" y1="214.59" x2="289.40" y2="214.59" stroke="#000" stroke-width="1.6" />
<text x="281.80" y="217.49" font-size="7.6" font-weight="bold" text-anchor="end" stroke="#000" stroke-width="0.3" textLength="10.40" lengthAdjust="spacingAndGlyphs" >70</text>
<line x1="286.80" y1="235.52" x2="289.40" y2="235.52" stroke="#000" stroke-width="1.6" />
<text x="281.80" y="238.42" font-size="7.6" font-weight="bold" text-anchor="end" stroke="#000" stroke-width="0.3" textLength="10.40" lengthAdjust="spacingAndGlyphs" >60</text>
<line x1="286.80" y1="256.45" x2="289.40" y2="256.45" stroke="#000" stroke-width="1.6" />
<text x="281.80" y="259.35" font-size="7.6" font-weight="bold" text-anchor="end" stroke="#000" stroke-width="0.3" textLength="10.40" lengthAdjust="spacingAndGlyphs" >50</text>
<line x1="286.80" y1="277.38" x2="289.40" y2="277.38" stroke="#000" stroke-width="1.6" />
<text x="281.80" y="280.28" font-size="7.6" font-weight="bold" text-anchor="end" stroke="#000" stroke-width="0.3" textLength="10.40" lengthAdjust="spacingAndGlyphs" >40</text>
<line x1="286.80" y1="298.31" x2="289.40" y2="298.31" stroke="#000" stroke-width="1.6" />
<text x="281.80" y="301.21" font-size="7.6" font-weight="bold" text-anchor="end" stroke="#000" stroke-width="0.3" textLength="10.40" lengthAdjust="spacingAndGlyphs" >30</text>
<line x1="286.80" y1="319.24" x2="289.40" y2="319.24" stroke="#000" stroke-width="1.6" />
<text x="281.80" y="322.14" font-size="7.6" font-weight="bold" text-anchor="end" stroke="#000" stroke-width="0.3" textLength="10.40" lengthAdjust="spacingAndGlyphs" >20</text>
<line x1="286.80" y1="340.17" x2="289.40" y2="340.17" stroke="#000" stroke-width="1.6" />
<text x="281.80" y="343.07" font-size="7.6" font-weight="bold" text-anchor="end" stroke="#000" stroke-width="0.3" textLength="10.40" lengthAdjust="spacingAndGlyphs" >10</text>
<line x1="286.80" y1="361.10" x2="289.40" y2="361.10" stroke="#000" stroke-width="1.6" />
<text x="281.80" y="364.00" font-size="7.6" font-weight="bold" text-anchor="end" stroke="#000" stroke-width="0.3" textLength="5.60" lengthAdjust="spacingAndGlyphs" >0</text>
<line x1="286.80" y1="382.03" x2="289.40" y2="382.03" stroke="#000" stroke-width="1.6" />
<text x="281.80" y="384.93" font-size="7.6" font-weight="bold" text-anchor="end" stroke="#000" stroke-width="0.3" textLength="13.40" lengthAdjust="spacingAndGlyphs" >-10</text>
<text x="267.50" y="294.50" font-size="8.4" font-weight="bold" text-anchor="middle" stroke="#000" stroke-width="0.3" textLength="90.30" lengthAdjust="spacingAndGlyphs" transform="rotate(-90 267.50 294.50)" >% of specific lysis</text>
<text x="380.60" y="404.20" font-size="8.6" font-weight="bold" text-anchor="middle" stroke="#000" stroke-width="0.3" textLength="42.60" lengthAdjust="spacingAndGlyphs" >E:T ratio</text>
<text x="305.70" y="385.30" font-size="8.3" font-weight="bold" text-anchor="middle" stroke="#000" stroke-width="0.3" textLength="24.80" lengthAdjust="spacingAndGlyphs" >18.3:1</text>
<text x="337.30" y="385.30" font-size="8.3" font-weight="bold" text-anchor="middle" stroke="#000" stroke-width="0.3" textLength="24.80" lengthAdjust="spacingAndGlyphs" >9.15:1</text>
<text x="370.00" y="385.30" font-size="8.3" font-weight="bold" text-anchor="middle" stroke="#000" stroke-width="0.3" textLength="24.80" lengthAdjust="spacingAndGlyphs" >4.57:1</text>
<text x="404.20" y="385.30" font-size="8.3" font-weight="bold" text-anchor="middle" stroke="#000" stroke-width="0.3" textLength="24.80" lengthAdjust="spacingAndGlyphs" >2.29:1</text>
<text x="436.80" y="385.30" font-size="8.3" font-weight="bold" text-anchor="middle" stroke="#000" stroke-width="0.3" textLength="24.80" lengthAdjust="spacingAndGlyphs" >1.14:1</text>
<text x="468.90" y="385.30" font-size="8.3" font-weight="bold" text-anchor="middle" stroke="#000" stroke-width="0.3" textLength="24.80" lengthAdjust="spacingAndGlyphs" >0.57:1</text>
<text x="305.00" y="224.60" font-size="8.5" font-weight="bold" text-anchor="middle" stroke="#000" stroke-width="0.3" textLength="8.60" lengthAdjust="spacingAndGlyphs" >**</text>
<polyline points="304.90,361.52 337.17,364.02 369.44,362.15 401.71,361.52 433.98,361.52 466.25,362.56" fill="none" stroke="#000" stroke-width="1.1" stroke-dasharray="4.2 2.4"/>
<line x1="304.90" y1="359.86" x2="304.90" y2="363.19" stroke="#000" stroke-width="1.1" />
<line x1="303.20" y1="359.86" x2="306.60" y2="359.86" stroke="#000" stroke-width="1.1" />
<line x1="303.20" y1="363.19" x2="306.60" y2="363.19" stroke="#000" stroke-width="1.1" />
<line x1="337.17" y1="358.82" x2="337.17" y2="369.22" stroke="#000" stroke-width="1.1" />
<line x1="335.47" y1="358.82" x2="338.87" y2="358.82" stroke="#000" stroke-width="1.1" />
<line x1="335.47" y1="369.22" x2="338.87" y2="369.22" stroke="#000" stroke-width="1.1" />
<line x1="369.44" y1="360.07" x2="369.44" y2="364.23" stroke="#000" stroke-width="1.1" />
<line x1="367.74" y1="360.07" x2="371.14" y2="360.07" stroke="#000" stroke-width="1.1" />
<line x1="367.74" y1="364.23" x2="371.14" y2="364.23" stroke="#000" stroke-width="1.1" />
<line x1="401.71" y1="359.86" x2="401.71" y2="363.19" stroke="#000" stroke-width="1.1" />
<line x1="400.01" y1="359.86" x2="403.41" y2="359.86" stroke="#000" stroke-width="1.1" />
<line x1="400.01" y1="363.19" x2="403.41" y2="363.19" stroke="#000" stroke-width="1.1" />
<line x1="433.98" y1="359.86" x2="433.98" y2="363.19" stroke="#000" stroke-width="1.1" />
<line x1="432.28" y1="359.86" x2="435.68" y2="359.86" stroke="#000" stroke-width="1.1" />
<line x1="432.28" y1="363.19" x2="435.68" y2="363.19" stroke="#000" stroke-width="1.1" />
<line x1="466.25" y1="360.07" x2="466.25" y2="365.06" stroke="#000" stroke-width="1.1" />
<line x1="464.55" y1="360.07" x2="467.95" y2="360.07" stroke="#000" stroke-width="1.1" />
<line x1="464.55" y1="365.06" x2="467.95" y2="365.06" stroke="#000" stroke-width="1.1" />
<circle cx="304.90" cy="361.52" r="2.3" fill="#000"/>
<circle cx="337.17" cy="364.02" r="2.3" fill="#000"/>
<circle cx="369.44" cy="362.15" r="2.3" fill="#000"/>
<circle cx="401.71" cy="361.52" r="2.3" fill="#000"/>
<circle cx="433.98" cy="361.52" r="2.3" fill="#000"/>
<circle cx="466.25" cy="362.56" r="2.3" fill="#000"/>
<polyline points="304.90,368.80 337.17,363.60 369.44,361.52 401.71,357.78 433.98,366.10 466.25,368.18" fill="none" stroke="#000" stroke-width="1.1" stroke-dasharray="4.2 2.4"/>
<line x1="304.90" y1="366.72" x2="304.90" y2="370.88" stroke="#000" stroke-width="1.1" />
<line x1="303.20" y1="366.72" x2="306.60" y2="366.72" stroke="#000" stroke-width="1.1" />
<line x1="303.20" y1="370.88" x2="306.60" y2="370.88" stroke="#000" stroke-width="1.1" />
<line x1="337.17" y1="356.74" x2="337.17" y2="370.46" stroke="#000" stroke-width="1.1" />
<line x1="335.47" y1="356.74" x2="338.87" y2="356.74" stroke="#000" stroke-width="1.1" />
<line x1="335.47" y1="370.46" x2="338.87" y2="370.46" stroke="#000" stroke-width="1.1" />
<line x1="369.44" y1="351.13" x2="369.44" y2="371.92" stroke="#000" stroke-width="1.1" />
<line x1="367.74" y1="351.13" x2="371.14" y2="351.13" stroke="#000" stroke-width="1.1" />
<line x1="367.74" y1="371.92" x2="371.14" y2="371.92" stroke="#000" stroke-width="1.1" />
<line x1="401.71" y1="355.29" x2="401.71" y2="360.28" stroke="#000" stroke-width="1.1" />
<line x1="400.01" y1="355.29" x2="403.41" y2="355.29" stroke="#000" stroke-width="1.1" />
<line x1="400.01" y1="360.28" x2="403.41" y2="360.28" stroke="#000" stroke-width="1.1" />
<line x1="433.98" y1="364.02" x2="433.98" y2="368.18" stroke="#000" stroke-width="1.1" />
<line x1="432.28" y1="364.02" x2="435.68" y2="364.02" stroke="#000" stroke-width="1.1" />
<line x1="432.28" y1="368.18" x2="435.68" y2="368.18" stroke="#000" stroke-width="1.1" />
<line x1="466.25" y1="362.98" x2="466.25" y2="373.37" stroke="#000" stroke-width="1.1" />
<line x1="464.55" y1="362.98" x2="467.95" y2="362.98" stroke="#000" stroke-width="1.1" />
<line x1="464.55" y1="373.37" x2="467.95" y2="373.37" stroke="#000" stroke-width="1.1" />
<path d="M304.90 366.40L307.30 368.80L304.90 371.20L302.50 368.80Z" fill="#fff" stroke="#000" stroke-width="1.2"/>
<path d="M337.17 361.20L339.57 363.60L337.17 366.00L334.77 363.60Z" fill="#fff" stroke="#000" stroke-width="1.2"/>
<path d="M369.44 359.12L371.84 361.52L369.44 363.92L367.04 361.52Z" fill="#fff" stroke="#000" stroke-width="1.2"/>
<path d="M401.71 355.38L404.11 357.78L401.71 360.18L399.31 357.78Z" fill="#fff" stroke="#000" stroke-width="1.2"/>
<path d="M433.98 363.70L436.38 366.10L433.98 368.50L431.58 366.10Z" fill="#fff" stroke="#000" stroke-width="1.2"/>
<path d="M466.25 365.78L468.65 368.18L466.25 370.58L463.85 368.18Z" fill="#fff" stroke="#000" stroke-width="1.2"/>
<polyline points="304.90,288.13 337.17,312.46 369.44,329.92 401.71,342.71 433.98,352.38 466.25,350.92" fill="none" stroke="#000" stroke-width="1.6"/>
<line x1="304.90" y1="281.07" x2="304.90" y2="295.20" stroke="#000" stroke-width="1.1" />
<line x1="303.20" y1="281.07" x2="306.60" y2="281.07" stroke="#000" stroke-width="1.1" />
<line x1="303.20" y1="295.20" x2="306.60" y2="295.20" stroke="#000" stroke-width="1.1" />
<line x1="337.17" y1="309.55" x2="337.17" y2="315.37" stroke="#000" stroke-width="1.1" />
<line x1="335.47" y1="309.55" x2="338.87" y2="309.55" stroke="#000" stroke-width="1.1" />
<line x1="335.47" y1="315.37" x2="338.87" y2="315.37" stroke="#000" stroke-width="1.1" />
<line x1="369.44" y1="323.06" x2="369.44" y2="336.78" stroke="#000" stroke-width="1.1" />
<line x1="367.74" y1="323.06" x2="371.14" y2="323.06" stroke="#000" stroke-width="1.1" />
<line x1="367.74" y1="336.78" x2="371.14" y2="336.78" stroke="#000" stroke-width="1.1" />
<line x1="401.71" y1="333.77" x2="401.71" y2="351.65" stroke="#000" stroke-width="1.1" />
<line x1="400.01" y1="333.77" x2="403.41" y2="333.77" stroke="#000" stroke-width="1.1" />
<line x1="400.01" y1="351.65" x2="403.41" y2="351.65" stroke="#000" stroke-width="1.1" />
<line x1="433.98" y1="345.52" x2="433.98" y2="359.24" stroke="#000" stroke-width="1.1" />
<line x1="432.28" y1="345.52" x2="435.68" y2="345.52" stroke="#000" stroke-width="1.1" />
<line x1="432.28" y1="359.24" x2="435.68" y2="359.24" stroke="#000" stroke-width="1.1" />
<line x1="466.25" y1="340.53" x2="466.25" y2="361.32" stroke="#000" stroke-width="1.1" />
<line x1="464.55" y1="340.53" x2="467.95" y2="340.53" stroke="#000" stroke-width="1.1" />
<line x1="464.55" y1="361.32" x2="467.95" y2="361.32" stroke="#000" stroke-width="1.1" />
<path d="M304.90 285.74L307.30 288.13L304.90 290.53L302.50 288.13Z" fill="#fff" stroke="#000" stroke-width="1.2"/>
<path d="M337.17 310.06L339.57 312.46L337.17 314.86L334.77 312.46Z" fill="#fff" stroke="#000" stroke-width="1.2"/>
<path d="M369.44 327.52L371.84 329.92L369.44 332.32L367.04 329.92Z" fill="#fff" stroke="#000" stroke-width="1.2"/>
<path d="M401.71 340.31L404.11 342.71L401.71 345.11L399.31 342.71Z" fill="#fff" stroke="#000" stroke-width="1.2"/>
<path d="M433.98 349.98L436.38 352.38L433.98 354.78L431.58 352.38Z" fill="#fff" stroke="#000" stroke-width="1.2"/>
<path d="M466.25 348.52L468.65 350.92L466.25 353.32L463.85 350.92Z" fill="#fff" stroke="#000" stroke-width="1.2"/>
<polyline points="304.90,238.24 337.17,273.37 369.44,306.22 401.71,321.81 433.98,337.41 466.25,347.80" fill="none" stroke="#000" stroke-width="1.6"/>
<line x1="304.90" y1="229.30" x2="304.90" y2="247.18" stroke="#000" stroke-width="1.1" />
<line x1="303.20" y1="229.30" x2="306.60" y2="229.30" stroke="#000" stroke-width="1.1" />
<line x1="303.20" y1="247.18" x2="306.60" y2="247.18" stroke="#000" stroke-width="1.1" />
<line x1="337.17" y1="265.89" x2="337.17" y2="280.86" stroke="#000" stroke-width="1.1" />
<line x1="335.47" y1="265.89" x2="338.87" y2="265.89" stroke="#000" stroke-width="1.1" />
<line x1="335.47" y1="280.86" x2="338.87" y2="280.86" stroke="#000" stroke-width="1.1" />
<line x1="369.44" y1="300.61" x2="369.44" y2="311.84" stroke="#000" stroke-width="1.1" />
<line x1="367.74" y1="300.61" x2="371.14" y2="300.61" stroke="#000" stroke-width="1.1" />
<line x1="367.74" y1="311.84" x2="371.14" y2="311.84" stroke="#000" stroke-width="1.1" />
<line x1="401.71" y1="317.45" x2="401.71" y2="326.18" stroke="#000" stroke-width="1.1" />
<line x1="400.01" y1="317.45" x2="403.41" y2="317.45" stroke="#000" stroke-width="1.1" />
<line x1="400.01" y1="326.18" x2="403.41" y2="326.18" stroke="#000" stroke-width="1.1" />
<line x1="433.98" y1="332.63" x2="433.98" y2="342.19" stroke="#000" stroke-width="1.1" />
<line x1="432.28" y1="332.63" x2="435.68" y2="332.63" stroke="#000" stroke-width="1.1" />
<line x1="432.28" y1="342.19" x2="435.68" y2="342.19" stroke="#000" stroke-width="1.1" />
<line x1="466.25" y1="339.49" x2="466.25" y2="356.12" stroke="#000" stroke-width="1.1" />
<line x1="464.55" y1="339.49" x2="467.95" y2="339.49" stroke="#000" stroke-width="1.1" />
<line x1="464.55" y1="356.12" x2="467.95" y2="356.12" stroke="#000" stroke-width="1.1" />
<circle cx="304.90" cy="238.24" r="2.3" fill="#000"/>
<circle cx="337.17" cy="273.37" r="2.3" fill="#000"/>
<circle cx="369.44" cy="306.22" r="2.3" fill="#000"/>
<circle cx="401.71" cy="321.81" r="2.3" fill="#000"/>
<circle cx="433.98" cy="337.41" r="2.3" fill="#000"/>
<circle cx="466.25" cy="347.80" r="2.3" fill="#000"/>
<line x1="411.10" y1="225.30" x2="431.60" y2="225.30" stroke="#000" stroke-width="1.6" />
<circle cx="421.50" cy="225.30" r="2.3" fill="#000"/>
<text x="438.40" y="228.60" font-size="8.7" font-weight="normal" text-anchor="start" stroke="#000" stroke-width="0.12" textLength="20.60" lengthAdjust="spacingAndGlyphs" >CD57</text>
<text x="459.20" y="224.80" font-size="4.8" font-weight="normal" text-anchor="start" stroke="#000" stroke-width="0.12" >+</text>
<text x="463.30" y="228.60" font-size="8.7" font-weight="normal" text-anchor="start" stroke="#000" stroke-width="0.12" textLength="51.00" lengthAdjust="spacingAndGlyphs" >NK anti-CD16</text>
<line x1="411.10" y1="240.10" x2="431.60" y2="240.10" stroke="#000" stroke-width="1.1" stroke-dasharray="3.2 2"/>
<circle cx="421.50" cy="240.10" r="2.3" fill="#000"/>
<text x="438.40" y="243.40" font-size="8.7" font-weight="normal" text-anchor="start" stroke="#000" stroke-width="0.12" textLength="20.60" lengthAdjust="spacingAndGlyphs" >CD57</text>
<text x="459.20" y="239.60" font-size="4.8" font-weight="normal" text-anchor="start" stroke="#000" stroke-width="0.12" >+</text>
<text x="463.30" y="243.40" font-size="8.7" font-weight="normal" text-anchor="start" stroke="#000" stroke-width="0.12" textLength="51.00" lengthAdjust="spacingAndGlyphs" >NK anti-CD56</text>
<line x1="411.10" y1="253.60" x2="431.60" y2="253.60" stroke="#000" stroke-width="1.6" />
<path d="M421.50 251.30L423.80 253.60L421.50 255.90L419.20 253.60Z" fill="#fff" stroke="#000" stroke-width="1.1"/>
<text x="438.40" y="256.90" font-size="8.7" font-weight="normal" text-anchor="start" stroke="#000" stroke-width="0.12" textLength="20.60" lengthAdjust="spacingAndGlyphs" >CD57</text>
<text x="459.20" y="253.10" font-size="4.8" font-weight="normal" text-anchor="start" stroke="#000" stroke-width="0.12" textLength="8.20" lengthAdjust="spacingAndGlyphs" >neg</text>
<text x="468.60" y="256.90" font-size="8.7" font-weight="normal" text-anchor="start" stroke="#000" stroke-width="0.12" textLength="51.00" lengthAdjust="spacingAndGlyphs" >NK anti-CD16</text>
<line x1="411.10" y1="266.80" x2="431.60" y2="266.80" stroke="#000" stroke-width="1.1" stroke-dasharray="3.2 2"/>
<path d="M421.50 264.50L423.80 266.80L421.50 269.10L419.20 266.80Z" fill="#fff" stroke="#000" stroke-width="1.1"/>
<text x="438.40" y="270.10" font-size="8.7" font-weight="normal" text-anchor="start" stroke="#000" stroke-width="0.12" textLength="20.60" lengthAdjust="spacingAndGlyphs" >CD57</text>
<text x="459.20" y="266.30" font-size="4.8" font-weight="normal" text-anchor="start" stroke="#000" stroke-width="0.12" textLength="8.20" lengthAdjust="spacingAndGlyphs" >neg</text>
<text x="468.60" y="270.10" font-size="8.7" font-weight="normal" text-anchor="start" stroke="#000" stroke-width="0.12" textLength="51.00" lengthAdjust="spacingAndGlyphs" >NK anti-CD56</text>
</svg>
</body></html>
